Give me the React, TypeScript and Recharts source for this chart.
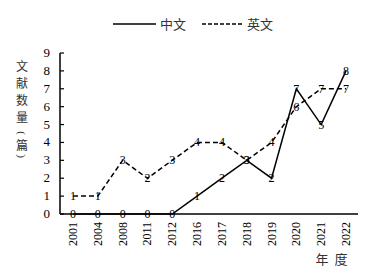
import React from "react";
import { LineChart, Line, XAxis, YAxis, LabelList } from "recharts";

const years = ["2001", "2004", "2008", "2011", "2012", "2016", "2017", "2018", "2019", "2020", "2021", "2022"];
const zhCounts = [0, 0, 0, 0, 0, 1, 2, 3, 2, 7, 5, 8];
const enCounts = [1, 1, 3, 2, 3, 4, 4, 3, 4, 6, 7, 7];
const yTicks = [0, 1, 2, 3, 4, 5, 6, 7, 8, 9];

const data = years.map((year, i) => ({ year, zh: zhCounts[i], en: enCounts[i] }));

const SERIF = "'Liberation Serif', 'Times New Roman', serif";
const CJK = "'Noto Sans CJK SC', sans-serif";

// value printed right on top of the point
function pointLabel(p: any) {
  return (
    <text
      x={p.x}
      y={p.y}
      dy={4}
      textAnchor="middle"
      fontSize={12}
      fontFamily={SERIF}
      style={{ fill: "#000" }}
    >
      {p.value}
    </text>
  );
}

function YTick({ x, y, payload }: any) {
  return (
    <g>
      <line x1={x + 10} x2={x + 14} y1={y} y2={y} stroke="#000" strokeWidth={1.2} />
      <text x={x} y={y} dy={4} textAnchor="end" fontSize={13} fontFamily={SERIF} style={{ fill: "#000" }}>
        {payload.value}
      </text>
    </g>
  );
}

function XTick({ x, y, payload }: any) {
  return (
    <text
      x={x}
      y={y}
      dy={4}
      textAnchor="end"
      fontSize={12}
      fontFamily={SERIF}
      style={{ fill: "#000" }}
      transform={`rotate(-90, ${x}, ${y})`}
    >
      {payload.value}
    </text>
  );
}

// vertical axis title, one glyph per row; the brackets are turned upright
function YTitle({ viewBox }: any) {
  const cx = viewBox.x + 22;
  const rows = [
    { ch: "文", dy: 13 },
    { ch: "献", dy: 30 },
    { ch: "数", dy: 47 },
    { ch: "量", dy: 64 },
    { ch: "(", dy: 80, paren: true },
    { ch: "篇", dy: 92 },
    { ch: ")", dy: 103, paren: true },
  ];
  return (
    <g>
      {rows.map((r) => {
        const cy = viewBox.y + r.dy;
        if (r.paren) {
          return (
            <text
              key={r.ch}
              x={cx}
              y={cy}
              textAnchor="middle"
              dominantBaseline="central"
              fontSize={11}
              fontFamily={SERIF}
              style={{ fill: "#333" }}
              transform={`rotate(90, ${cx}, ${cy})`}
            >
              {r.ch}
            </text>
          );
        }
        return (
          <text
            key={r.ch}
            x={cx}
            y={cy}
            dy={4.5}
            textAnchor="middle"
            fontSize={12}
            fontFamily={CJK}
            style={{ fill: "#333" }}
          >
            {r.ch}
          </text>
        );
      })}
    </g>
  );
}

function XTitle({ viewBox }: any) {
  const y = viewBox.y + 50;
  return (
    <g fontSize={13} fontFamily={CJK} style={{ fill: "#333" }}>
      <text x={viewBox.x + 262} y={y} textAnchor="middle">年</text>
      <text x={viewBox.x + 281} y={y} textAnchor="middle">度</text>
    </g>
  );
}

export default function App() {
  return (
    <div style={{ position: "absolute", left: 0, top: 0, width: 386, height: 275, background: "#fff" }}>
      {/* legend */}
      <svg width={386} height={40} style={{ position: "absolute", left: 0, top: 0 }}>
        <line x1={113} x2={156} y1={24} y2={24} stroke="#000" strokeWidth={1.6} />
        <text x={160} y={29} fontSize={13} fontFamily={CJK} fill="#333">中文</text>
        <line x1={202} x2={243} y1={24} y2={24} stroke="#000" strokeWidth={1.6} strokeDasharray="4 2" />
        <text x={247} y={29} fontSize={13} fontFamily={CJK} fill="#333">英文</text>
      </svg>

      <LineChart width={386} height={275} data={data} margin={{ top: 53, right: 28, bottom: 0, left: 0 }}>
        <XAxis
          dataKey="year"
          interval={0}
          height={61}
          padding={{ left: 13, right: 12 }}
          tickSize={0}
          tickMargin={8}
          tickLine={false}
          axisLine={{ stroke: "#000", strokeWidth: 1.5 }}
          tick={<XTick />}
          label={{ content: (p: any) => <XTitle {...p} /> }}
        />
        <YAxis
          width={60}
          domain={[0, 9]}
          ticks={yTicks}
          interval={0}
          tickSize={0}
          tickMargin={10}
          tickLine={false}
          axisLine={{ stroke: "#000", strokeWidth: 1.5 }}
          tick={<YTick />}
          label={{ content: (p: any) => <YTitle {...p} /> }}
        />
        <Line
          dataKey="en"
          type="linear"
          stroke="#000"
          strokeWidth={1.5}
          strokeDasharray="5 3"
          dot={false}
          isAnimationActive={false}
        >
          <LabelList dataKey="en" content={pointLabel} />
        </Line>
        <Line
          dataKey="zh"
          type="linear"
          stroke="#000"
          strokeWidth={1.5}
          dot={false}
          isAnimationActive={false}
        >
          <LabelList dataKey="zh" content={pointLabel} />
        </Line>
      </LineChart>
    </div>
  );
}
